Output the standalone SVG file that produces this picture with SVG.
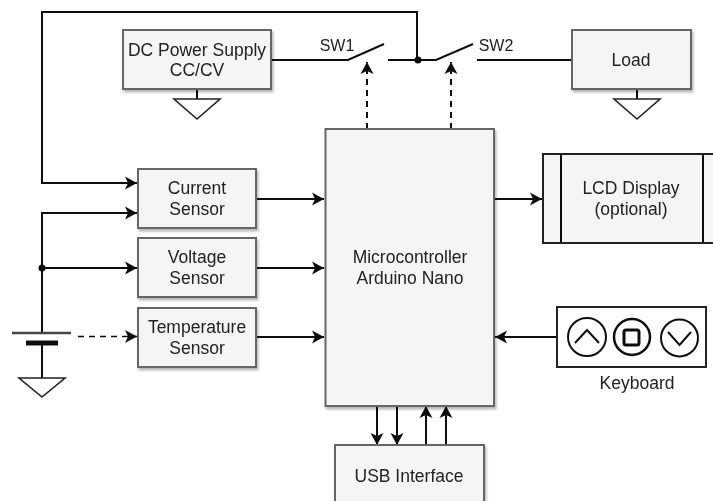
<svg xmlns="http://www.w3.org/2000/svg" width="713" height="501" viewBox="0 0 713 501">
<style>
.box{fill:#f5f5f5;stroke:#666;stroke-width:2;filter:url(#shadow)}
.plain{fill:#f5f5f5;stroke:#222;stroke-width:2}
.w{fill:none;stroke:#111;stroke-width:2}
.d{fill:none;stroke:#111;stroke-width:2;stroke-dasharray:6 5}
.t{fill:none;stroke:#111;stroke-width:1.500;stroke-dasharray:6 5}
.gnd{fill:#fff;stroke:#222;stroke-width:1.600}
text{font-family:"Liberation Sans",Arial,sans-serif;font-size:17.500px;fill:#222;text-anchor:middle}
text.sw{font-size:16px}
</style>
<defs>
<filter id="shadow" x="-10%" y="-10%" width="125%" height="125%"><feDropShadow dx="1.500" dy="2.500" stdDeviation="1" flood-color="#000" flood-opacity="0.28"/></filter>
<filter id="soft" x="0" y="0" width="713" height="501" filterUnits="userSpaceOnUse"><feGaussianBlur stdDeviation="0.45"/></filter>
<marker id="a" markerUnits="userSpaceOnUse" markerWidth="13" markerHeight="14" refX="12" refY="7" orient="auto"><path d="M0 0.500L12 7L0 13.500L3 7Z" fill="#111"/></marker>
</defs>
<rect width="713" height="501" fill="#fff"/>
<g filter="url(#soft)">
<g id="connectors">
<path class="w" d="M417 60V12H42V183H137" marker-end="url(#a)"/>
<path class="w" d="M42 333V213H137" marker-end="url(#a)"/>
<path class="w" d="M42 268H137" marker-end="url(#a)"/>
<circle cx="42" cy="268" r="3.500" fill="#111"/>
<path class="t" d="M78 336.500H137" marker-end="url(#a)"/>
<path class="w" d="M257 199H324" marker-end="url(#a)"/>
<path class="w" d="M257 268H324" marker-end="url(#a)"/>
<path class="w" d="M257 337H324" marker-end="url(#a)"/>
<path class="w" d="M495 199H542" marker-end="url(#a)"/>
<path class="w" d="M557 337H495" marker-end="url(#a)"/>
<path class="w" d="M377 406V445" marker-end="url(#a)"/>
<path class="w" d="M397 406V445" marker-end="url(#a)"/>
<path class="w" d="M426 445V406" marker-end="url(#a)"/>
<path class="w" d="M446 445V406" marker-end="url(#a)"/>
<path class="d" d="M367 129V62" marker-end="url(#a)"/>
<path class="d" d="M451 129V62" marker-end="url(#a)"/>
<path class="w" d="M272 60H348L384 44"/>
<path class="w" d="M388 60H436L473 44"/>
<path class="w" d="M477 60H572"/>
<circle cx="418" cy="60" r="3.500" fill="#111"/>
<path class="w" d="M197 89V99"/>
<path class="w" d="M637 89V99"/>
<path class="w" d="M42 343V378"/>
</g>
<g id="dc-supply"><rect class="box" x="123" y="30" width="148" height="59"/><text x="197" y="56">DC Power Supply</text><text x="197" y="76">CC/CV</text></g>
<g id="dc-ground"><path class="gnd" d="M174 99H220L197 119Z"/></g>
<g id="load"><rect class="box" x="572" y="30" width="119" height="59"/><text x="631" y="66">Load</text></g>
<g id="load-ground"><path class="gnd" d="M614 99H660L637 119Z"/></g>
<text class="sw" x="337" y="51">SW1</text>
<text class="sw" x="496" y="51">SW2</text>
<g id="current-sensor"><rect class="box" x="138" y="169" width="118" height="59"/><text x="197" y="194">Current</text><text x="197" y="215">Sensor</text></g>
<g id="voltage-sensor"><rect class="box" x="138" y="238" width="118" height="59"/><text x="197" y="263">Voltage</text><text x="197" y="284">Sensor</text></g>
<g id="temperature-sensor"><rect class="box" x="138" y="308" width="118" height="59"/><text x="197" y="333">Temperature</text><text x="197" y="354">Sensor</text></g>
<g id="battery"><path d="M12 333H71" fill="none" stroke="#444" stroke-width="2.500"/><path d="M26 343H58" fill="none" stroke="#111" stroke-width="5"/><path class="gnd" d="M19 378H65L42 397Z"/></g>
<g id="mcu"><rect class="box" x="325.500" y="129" width="168.500" height="277"/><text x="410" y="263">Microcontroller</text><text x="410" y="284">Arduino Nano</text></g>
<g id="lcd"><rect class="plain" x="543" y="154" width="190" height="89"/><path class="w" d="M561 154V243M703 154V243"/><text x="631" y="194">LCD Display</text><text x="631" y="215">(optional)</text></g>
<g id="keyboard"><rect x="557" y="307" width="149" height="60" fill="#fff" stroke="#222" stroke-width="2"/>
<circle cx="587" cy="337" r="19" fill="none" stroke="#111" stroke-width="2"/><path d="M575 343L587 330L599 343" fill="none" stroke="#111" stroke-width="2"/>
<circle cx="632" cy="337" r="18" fill="none" stroke="#111" stroke-width="2.500"/><rect x="624" y="330" width="15" height="15" rx="2" fill="none" stroke="#111" stroke-width="3"/>
<circle cx="679.500" cy="338" r="18.500" fill="none" stroke="#111" stroke-width="2"/><path d="M668 332L679.500 345L691 332" fill="none" stroke="#111" stroke-width="2"/>
<text x="637" y="389">Keyboard</text></g>
<g id="usb"><rect class="box" x="335" y="445" width="149" height="70"/><text x="409" y="482">USB Interface</text></g>
</g>
</svg>
